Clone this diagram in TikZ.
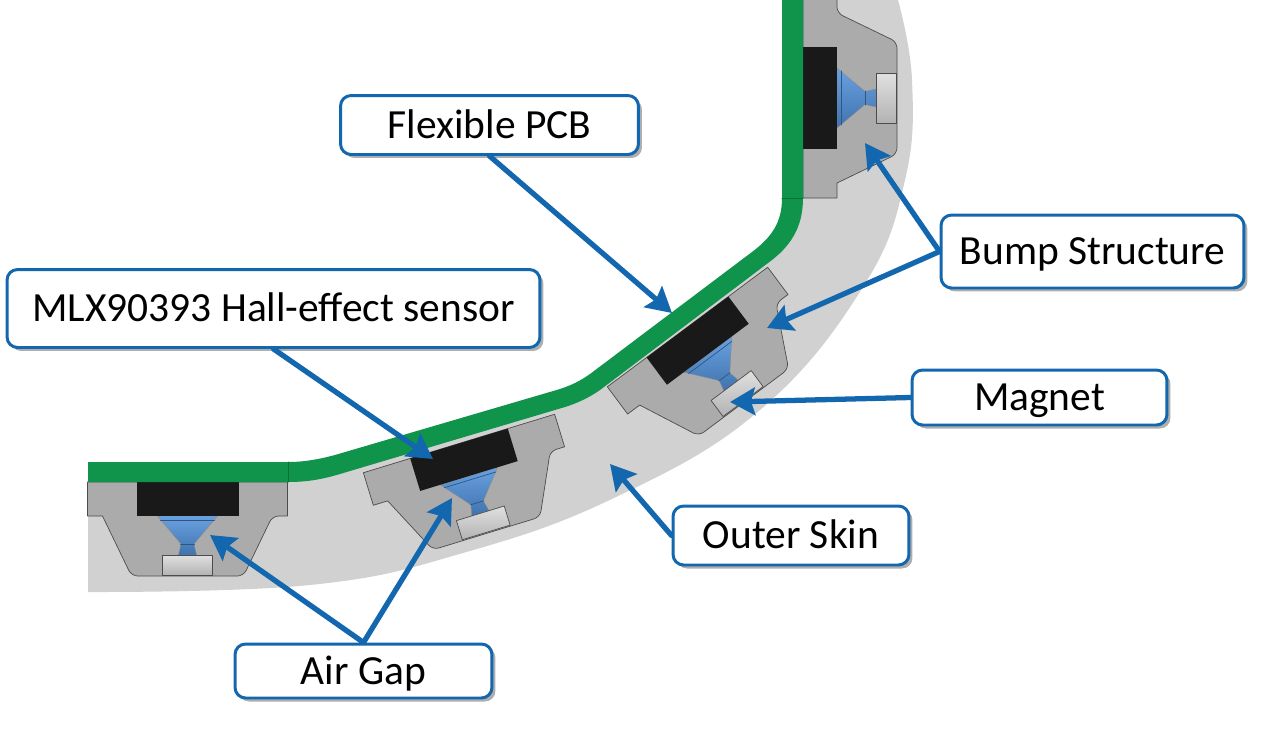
\documentclass[tikz,border=0pt]{standalone}
\usepackage{fontspec}
\setmainfont{Carlito}
\usetikzlibrary{arrows.meta,shadows}
\definecolor{skingrey}{HTML}{D0D1D0}
\definecolor{blockgrey}{HTML}{ABABAB}
\definecolor{pcbgreen}{HTML}{10934A}
\definecolor{conefill}{HTML}{4F90DA}
\definecolor{leadblue}{HTML}{1367AF}
\tikzset{
  bump/.pic={
    \draw[draw=black!70,line width=.4pt,fill=blockgrey]
      (-100,0)--(-100,34)--(-85,34)
      [rounded corners=3.5pt]--(-56,94)--(56,94)--(85,34)
      [sharp corners]--(100,34)--(100,0)--cycle;
    \draw[draw=black!45,line width=.25pt,top color=conefill!85!white,bottom color=conefill!80!black]
      (-30,34)--(30,34)--(6.5,62)--(9,73)--(-9,73)--(-6.5,62)--cycle;
    \draw[conefill!60!black,line width=.4pt](-27,38)--(27,38) (-7,62)--(7,62);
    \draw[draw=black!70,line width=.4pt,top color=white!88!black,bottom color=black!30]
      (-25,73) rectangle (25,93);
    \fill[black!90](-51,0) rectangle (51,34);
  },
  callout/.style={draw=leadblue,line width=1.7pt,fill=white,rounded corners=6pt,
    font=\fontsize{23.6}{28}\selectfont,text=black,inner sep=0pt,text height=14.9pt,text depth=0pt,
    drop shadow={shadow xshift=.07cm,shadow yshift=-.07cm,fill=black!45,opacity=.7}},
  lead/.style={draw=leadblue,line width=3pt,-{Stealth[length=.5cm,width=.55cm,inset=.08cm]}}
}
\begin{document}
\begin{tikzpicture}[x=.02cm,y=-.02cm,line cap=round,line join=round]
\useasboundingbox (0,0) rectangle (1264,734);
% Outer skin.
\fill[skingrey](88,472)--(88,592)--plot[smooth,tension=.7] coordinates
  {(88,592)(310,585)(463,553)(616,497)(760,410)(863,287)(905,180)(912,80)(898,0)}
  --(790,0)--(790,225)--(760,258)--(590,385)--(330,465)--cycle;
% Sensor blocks along the board.
\pic at (187.5,482) {bump};
\pic[rotate=17] at (459,443.5) {bump};
\pic[rotate=36.7] at (687.5,327) {bump};
\pic[rotate=90] at (803,98) {bump};
% Flexible board.
\fill[pcbgreen](88,462)--(288,462) .. controls (305,462) and (320,459) .. (335,455)
  --(560,389) .. controls (572,385) and (580,381) .. (590,374)
  --(752,252) .. controls (772,237) and (782,222) .. (782,198)--(782,-5)--(803,-5)--(803,198)
  .. controls (803,228) and (790,247) .. (768,263)
  --(600,390) .. controls (590,397) and (578,403) .. (565,407)
  --(340,474) .. controls (320,480) and (305,482) .. (288,482)--(88,482)--cycle;
\draw[pcbgreen!75!black,line width=.3pt](288,462)--(288,482) (782,198)--(803,198);
% Callouts.
\node[callout,minimum width=5.96cm,minimum height=1.18cm] (flexlbl) at (489.5,125) {Flexible PCB};
\node[callout,minimum width=10.66cm,minimum height=1.56cm] (halllbl) at (273.5,308.5) {MLX90393 Hall-effect sensor};
\node[callout,minimum width=6.06cm,minimum height=1.46cm] (bumplbl) at (1092.5,251.5) {Bump Structure};
\node[callout,minimum width=5.1cm,minimum height=1.1cm] (maglbl) at (1039.5,397.5) {Magnet};
\node[callout,minimum width=4.72cm,minimum height=1.18cm] (skinlbl) at (791,535.5) {Outer Skin};
\node[callout,minimum width=5.14cm,minimum height=1.08cm] (gaplbl) at (363.5,671) {Air Gap};
\coordinate (flextip) at (672,313);
\coordinate (halltip) at (433,459);
\coordinate (bumptipa) at (865,143);
\coordinate (bumptipb) at (767,328);
\coordinate (magtip) at (730,402);
\coordinate (skintip) at (610,464);
\coordinate (gaptipa) at (210,535);
\coordinate (gaptipb) at (452,498);
\draw[lead](flexlbl.south)--(flextip);
\draw[lead](halllbl.south)--(halltip);
\draw[lead](bumplbl.west)--(bumptipa);
\draw[lead](bumplbl.west)--(bumptipb);
\draw[lead](maglbl.west)--(magtip);
\draw[lead](skinlbl.west)--(skintip);
\draw[lead](gaplbl.north)--(gaptipa);
\draw[lead](gaplbl.north)--(gaptipb);
\end{tikzpicture}
\end{document}
